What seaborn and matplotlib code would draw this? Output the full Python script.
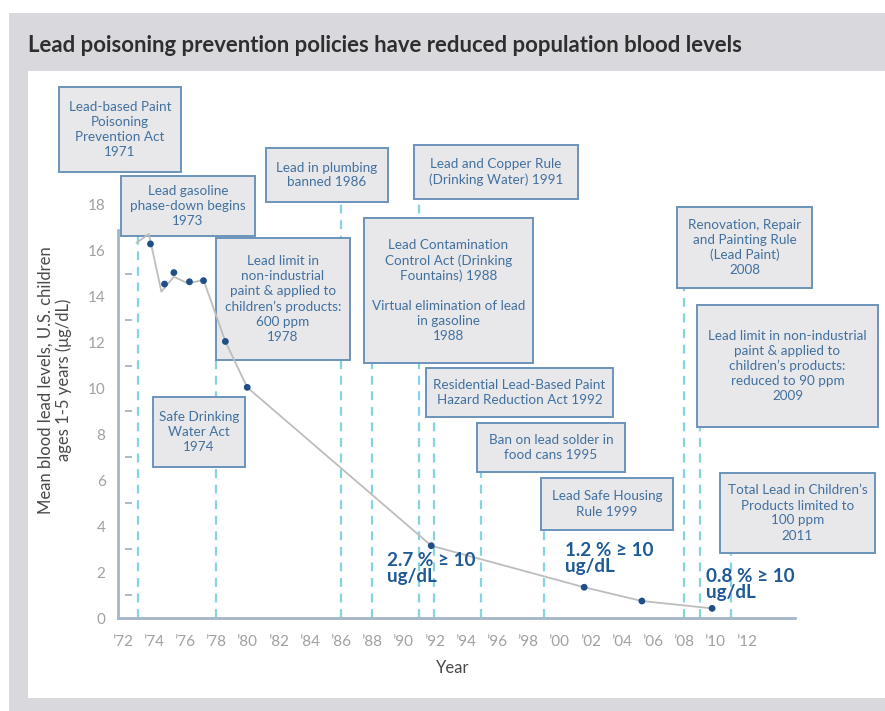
import matplotlib
matplotlib.use("Agg")
import matplotlib.pyplot as plt
from matplotlib.patches import Rectangle
import seaborn as sns
import pandas as pd

# ---------------- data ----------------
dot_years = [1973.8, 1974.7, 1975.3, 1976.3, 1977.2, 1978.6, 1980.0, 1991.8, 2001.6, 2005.3, 2009.8]
dot_values = [16.3, 14.55, 15.05, 14.65, 14.7, 12.05, 10.05, 3.15, 1.34, 0.74, 0.42]

line_years = [1972.9, 1973.7, 1974.5, 1975.3, 1976.2, 1977.2, 1978.6, 1980.0, 1991.8, 2001.6, 2005.3, 2009.8]
line_values = [16.35, 16.73, 14.22, 14.87, 14.58, 14.73, 12.05, 10.05, 3.15, 1.34, 0.74, 0.42]

x_ticks = list(range(1972, 2013, 2))
x_tick_labels = ["\u2019" + str(y)[2:] for y in x_ticks]
y_ticks = list(range(0, 19, 2))
y_minor = list(range(1, 16, 2))

policy_texts = [
    "Lead-based Paint\nPoisoning\nPrevention Act\n1971",
    "Lead gasoline\nphase-down begins\n1973",
    "Lead in plumbing\nbanned 1986",
    "Lead and Copper Rule\n(Drinking Water) 1991",
    "Lead Contamination\nControl Act (Drinking\nFountains) 1988\n\nVirtual elimination of lead\nin gasoline\n1988",
    "Residential Lead-Based Paint\nHazard Reduction Act 1992",
    "Ban on lead solder in\nfood cans 1995",
    "Lead limit in\nnon-industrial\npaint & applied to\nchildren\u2019s products:\n600 ppm\n1978",
    "Safe Drinking\nWater Act\n1974",
    "Lead Safe Housing\nRule 1999",
    "Renovation, Repair\nand Painting Rule\n(Lead Paint)\n2008",
    "Lead limit in non-industrial\npaint & applied to\nchildren\u2019s products:\nreduced to 90 ppm\n2009",
    "Total Lead in Children\u2019s\nProducts limited to\n100 ppm\n2011",
]
policy_years = [None, 1973, 1986, 1991, 1988, 1992, 1995, 1978, None, 1999, 2008, 2009, 2011]

pct_texts = ["2.7 % \u2265 10\nug/dL", "1.2 % \u2265 10\nug/dL", "0.8 % \u2265 10\nug/dL"]

# ---------------- layout (pixels) ----------------
W, H = 885, 711
box_px = [
    (59, 87, 181, 172),
    (121, 176, 255, 236),
    (266, 148, 388, 202),
    (414, 145, 578, 199),
    (364, 218, 533, 363),
    (426, 368, 613, 417),
    (477, 423, 625, 472),
    (216, 238, 350, 360),
    (153, 397, 245, 467),
    (541, 478, 673, 530),
    (677, 207, 812, 288),
    (697, 305, 878, 427),
    (720, 473, 875, 553),
]
pct_px = [(387, 552), (565, 542), (706, 568)]

AX_L, AX_R, AX_B, AX_T = 118, 795, 618, 80
PX_PER_UNIT = 22.95
PX_PER_YEAR = 15.6
X0 = 1972 - (122.4 - AX_L) / PX_PER_YEAR


def fx(px):
    return px / W


def fy(py):
    return 1 - py / H


sns.set_theme(style="white")
plt.rcParams["font.family"] = ["Lato", "DejaVu Sans"]

fig = plt.figure(figsize=(W / 100, H / 100), dpi=100)
fig.patch.set_facecolor("white")
fig.patches.append(Rectangle((fx(9), 0), 1 - fx(9), fy(13), transform=fig.transFigure,
                             facecolor="#D9D9DD", edgecolor="none", zorder=-3))
fig.patches.append(Rectangle((fx(28), fy(698)), 1 - fx(28), fy(71) - fy(698), transform=fig.transFigure,
                             facecolor="white", edgecolor="none", zorder=-2))

fig.text(fx(28), fy(45), "Lead poisoning prevention policies have reduced population blood levels",
         fontsize=15.9, fontweight="bold", color="#2E2E2E", ha="left", va="center")

ax = fig.add_axes([fx(AX_L), fy(AX_B), (AX_R - AX_L) / W, (AX_B - AX_T) / H])
ax.set_facecolor("none")
ax.set_xlim(X0, X0 + (AX_R - AX_L) / PX_PER_YEAR)
ax.set_ylim(0, (AX_B - AX_T) / PX_PER_UNIT)

dash_col = "#86D3E3"
for yr, bx in zip(policy_years, box_px):
    if yr is None:
        continue
    top = (AX_B - bx[3]) / PX_PER_UNIT
    ax.plot([yr, yr], [0, top], color=dash_col, lw=1.6, ls=(0, (4, 3)), zorder=1, clip_on=False)

box_face = "#E8E8EA"
box_edge = "#6B93BA"
txt_col = "#41709F"
for txt, (x0, y0, x1, y1) in zip(policy_texts, box_px):
    ax.add_patch(Rectangle((fx(x0), fy(y1)), (x1 - x0) / W, (y1 - y0) / H,
                           transform=fig.transFigure, facecolor=box_face,
                           edgecolor=box_edge, lw=1.4, zorder=4, clip_on=False))
    ax.text(fx((x0 + x1) / 2), fy((y0 + y1) / 2), txt, ha="center", va="center",
            transform=fig.transFigure, fontsize=9.7, color=txt_col, linespacing=1.3,
            zorder=5, clip_on=False)

line_df = pd.DataFrame({"year": line_years, "value": line_values})
dot_df = pd.DataFrame({"year": dot_years, "value": dot_values})
sns.lineplot(data=line_df, x="year", y="value", ax=ax, color="#BDBDBD", lw=1.3,
             sort=False, estimator=None, zorder=6)
sns.scatterplot(data=dot_df, x="year", y="value", ax=ax, color="#1F4F86", s=24,
                edgecolor="none", zorder=7)

spine_col = "#A3B5C8"
for s in ["top", "right"]:
    ax.spines[s].set_visible(False)
ax.spines["left"].set_color(spine_col)
ax.spines["bottom"].set_color(spine_col)
ax.spines["left"].set_linewidth(2)
ax.spines["bottom"].set_linewidth(2)
ax.spines["left"].set_bounds(0, 16.9)

ax.set_xticks(x_ticks)
ax.set_xticklabels(x_tick_labels)
ax.set_yticks(y_ticks)
ax.set_yticklabels([str(v) for v in y_ticks])
ax.tick_params(axis="x", direction="in", length=4, width=1.3, color=spine_col,
               labelsize=11, labelcolor="#A0A0A0", pad=12)
ax.tick_params(axis="y", direction="in", length=9.5, width=1.3, color=spine_col,
               labelsize=11, labelcolor="#A0A0A0", pad=9)
ax.yaxis.get_major_ticks()[-1].tick1line.set_visible(False)
ax.hlines(y_minor, 7 / (AX_R - AX_L), 13.7 / (AX_R - AX_L), transform=ax.get_yaxis_transform(),
          color=spine_col, lw=1.3)
ax.set_xlabel("")
ax.set_ylabel("")

fig.text(fx(55), fy(380), "Mean blood lead levels, U.S. children\nages 1-5 years (\u03bcg/dL)",
         rotation=90, ha="center", va="center", fontsize=12, color="#4A4A4A", linespacing=1.1)
fig.text(fx(453), fy(668), "Year", ha="center", va="center", fontsize=12, color="#4A4A4A")

for txt, (px, py) in zip(pct_texts, pct_px):
    ax.text(fx(px), fy(py), txt, ha="left", va="top", fontsize=13.6, fontweight="bold",
            transform=fig.transFigure, color="#1F5A96", linespacing=0.9, zorder=8,
            clip_on=False)

fig.savefig("out.png", dpi=100)
